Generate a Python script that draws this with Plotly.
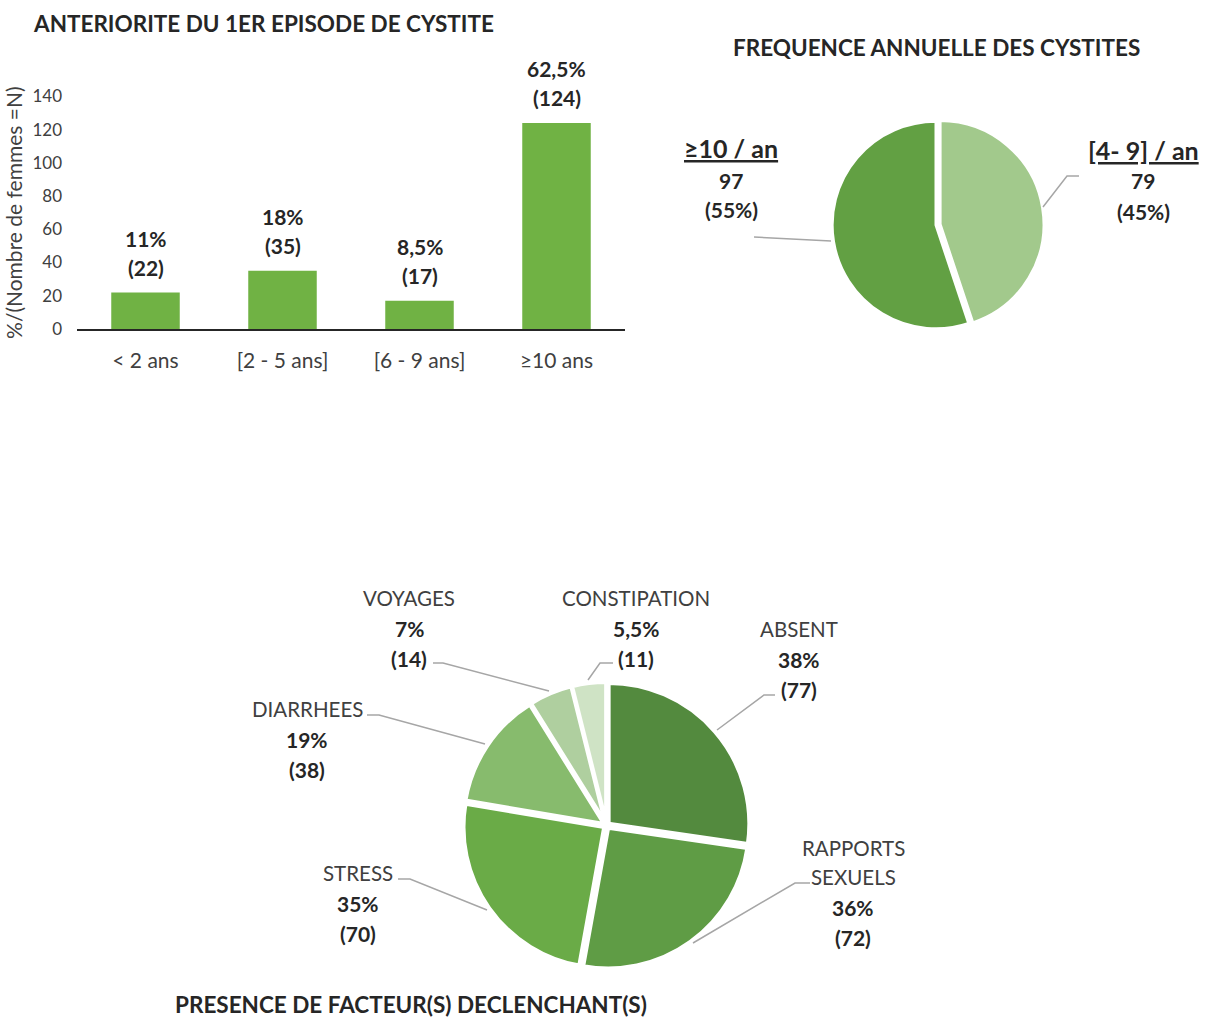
import plotly.graph_objects as go

W, H = 1212, 1018

# ---------------- Data ----------------
bar_categories = ["< 2 ans", "[2 - 5 ans]", "[6 - 9 ans]", "≥10 ans"]
bar_counts = [22, 35, 17, 124]
bar_percents = ["11%", "18%", "8,5%", "62,5%"]

freq_labels = ["[4- 9] / an", "≥10 / an"]
freq_counts = [79, 97]
freq_percents = ["45%", "55%"]

factor_labels = ["ABSENT", "RAPPORTS<br>SEXUELS", "STRESS", "DIARRHEES", "VOYAGES", "CONSTIPATION"]
factor_counts = [77, 72, 70, 38, 14, 11]
factor_percents = ["38%", "36%", "35%", "19%", "7%", "5,5%"]

FONT = "Lato"
DARK = "#262626"
GREY = "#404040"
LEADER = "#a6a6a6"


def px(x):
    return x / W


def py(y):
    return 1 - y / H


fig = go.Figure()

# ---------------- Bar chart ----------------
fig.add_trace(go.Bar(
    x=bar_categories, y=bar_counts,
    marker=dict(color="#70b244", line=dict(width=0)),
    width=0.5, xaxis="x", yaxis="y", showlegend=False,
    hoverinfo="skip",
))

# ---------------- Top pie ----------------
fig.add_trace(go.Pie(
    labels=freq_labels, values=freq_counts, sort=False,
    direction="clockwise", rotation=0,
    marker=dict(colors=["#a2c98c", "#62a043"], line=dict(color="white", width=3)),
    pull=[0.04, 0],
    textinfo="none", hoverinfo="skip", showlegend=False,
    domain=dict(x=[px(828), px(1044)], y=[py(333), py(117)]),
))

# ---------------- Bottom pie ----------------
fig.add_trace(go.Pie(
    labels=factor_labels, values=factor_counts, sort=False,
    direction="clockwise", rotation=0,
    marker=dict(colors=["#538a3e", "#5f9c45", "#6aab47", "#87bb6d", "#afcf9f", "#cfe3c5"],
                line=dict(color="white", width=4)),
    pull=[0.02] * 6,
    textinfo="none", hoverinfo="skip", showlegend=False,
    domain=dict(x=[px(463), px(750)], y=[py(969), py(682)]),
))

annotations = []


def text(x, y, s, size=21, bold=False, color=DARK):
    annotations.append(dict(
        x=px(x), y=py(y), xref="paper", yref="paper", showarrow=False,
        text=f"<b>{s}</b>" if bold else s,
        font=dict(family=FONT, size=size, color=color),
        xanchor="center", yanchor="middle",
    ))


# Bar value labels (anchored to the bars through the axes)
for cat, n, p in zip(bar_categories, bar_counts, bar_percents):
    for s, shift in ((p, 54), (f"({n})", 25)):
        annotations.append(dict(
            x=cat, y=n, xref="x", yref="y", showarrow=False, yshift=shift,
            text=f"<b>{s}</b>", font=dict(family=FONT, size=21, color=DARK),
            xanchor="center", yanchor="middle",
        ))

# Titles
text(263, 23, "ANTERIORITE DU 1ER EPISODE DE CYSTITE", size=22.5, bold=True)
text(937, 48, "FREQUENCE ANNUELLE DES CYSTITES", size=22.5, bold=True)
text(411, 1004, "PRESENCE DE FACTEUR(S) DECLENCHANT(S)", size=22.5, bold=True)

# Top pie labels
text(731, 148, f"<u>{freq_labels[1]}</u>", size=25, bold=True)
text(731, 180, str(freq_counts[1]), bold=True)
text(731, 209, f"({freq_percents[1]})", bold=True)
text(1143, 150, f"<u>{freq_labels[0]}</u>", size=25, bold=True)
text(1143, 181, str(freq_counts[0]), bold=True)
text(1143, 211, f"({freq_percents[0]})", bold=True)

# Bottom pie labels
label_pos = {
    "ABSENT": (799, 629),
    "RAPPORTS<br>SEXUELS": (853, 848),
    "STRESS": (358, 873),
    "DIARRHEES": (307, 709),
    "VOYAGES": (409, 598),
    "CONSTIPATION": (636, 598),
}
for lab, n, p in zip(factor_labels, factor_counts, factor_percents):
    x, y = label_pos[lab]
    parts = lab.split("<br>")
    for i, part in enumerate(parts):
        text(x, y + 29 * i, part, size=20.5, color=GREY)
    y0 = y + 29 * (len(parts) - 1)
    text(x, y0 + 30, p, bold=True)
    text(x, y0 + 60, f"({n})", bold=True)

# Leader lines
leaders = [
    [(754, 237), (831, 241)],
    [(1043, 207), (1067, 176), (1079, 176)],
    [(433, 663), (443, 663), (549, 691)],
    [(613, 663), (600, 663), (588, 680)],
    [(367, 715), (379, 715), (485, 744)],
    [(398, 879), (410, 879), (487, 910)],
    [(717, 730), (764, 695), (775, 695)],
    [(693, 943), (795, 883), (810, 883)],
]
shapes = []
for pts in leaders:
    path = "M " + " L ".join(f"{px(x)},{py(y)}" for x, y in pts)
    shapes.append(dict(type="path", path=path, xref="paper", yref="paper",
                       line=dict(color=LEADER, width=1.5)))

fig.update_layout(
    width=W, height=H,
    margin=dict(l=0, r=0, t=0, b=0, pad=0, autoexpand=False),
    paper_bgcolor="white", plot_bgcolor="white",
    font=dict(family=FONT, color=GREY),
    xaxis=dict(domain=[px(77), px(625)], showline=True, linecolor="#262626", linewidth=2,
               showgrid=False, ticks="", tickfont=dict(family=FONT, size=21, color=GREY),
               ticklabelstandoff=12, fixedrange=True, automargin=False),
    yaxis=dict(domain=[py(329), py(96.4)], range=[0, 140], dtick=20, showgrid=False,
               zeroline=False, showline=False, ticks="",
               tickfont=dict(family=FONT, size=17, color=GREY), ticklabelstandoff=14,
               title=dict(text="%/(Nombre de femmes =N)", font=dict(family=FONT, size=21, color=GREY),
                          standoff=4),
               fixedrange=True, automargin=False),
    annotations=annotations,
    shapes=shapes,
    bargap=0.5,
)

fig.write_html("out.html", config={"displayModeBar": False},
               post_script="document.body.style.margin='0';")
